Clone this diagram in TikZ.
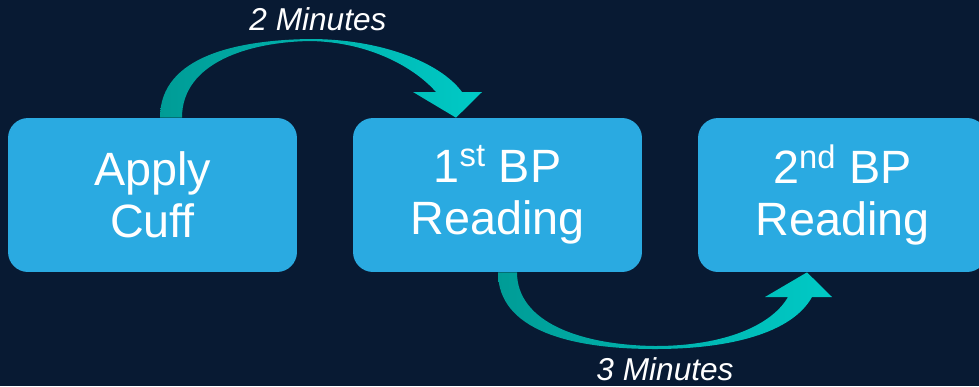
\documentclass[tikz,border=0pt]{standalone}
\usepackage{fontspec}
\setmainfont{Liberation Sans}
\usetikzlibrary{calc}

\definecolor{navy}{HTML}{081A33}
\definecolor{boxblue}{HTML}{2AAAE1}
\definecolor{tealdark}{HTML}{009C96}
\definecolor{teallight}{HTML}{00CAC6}

\tikzset{
  stepbox/.style={fill=boxblue, text=white, rounded corners=0.4cm,
    minimum width=5.78cm, minimum height=3.08cm, inner sep=0pt, align=center,
    font=\fontsize{26.6}{29.6}\selectfont},
  minutes/.style={text=white, anchor=base, font=\itshape\fontsize{18}{20}\selectfont}
}

\begin{document}
\begin{tikzpicture}[x=0.02cm,y=-0.02cm]

      % background
      \fill[navy] (0,0) rectangle (979,386);
      \useasboundingbox (0,0) rectangle (979,386);

      % 3 steps in a row
      \node[stepbox] (apply) at (152.5,195) {Apply\\Cuff};
      \node[stepbox] (first) at (497.5,195) {1\textsuperscript{st} BP\\Reading};
      \node[stepbox] (second) at (842.5,195) {2\textsuperscript{nd} BP\\Reading};

      % arrow over the top, thin at its peak
      \shade[left color=tealdark, right color=teallight]
        ($(apply.north)+(7.5,0)$) .. controls (160,55) and (240,40) .. (310,39)
        .. controls (380,39) and (440,62) .. (462,92) -- (482,92)
        -- ($(first.north)+(-41.5,0)$) -- (413,92) -- (436,92)
        .. controls (415,68) and (370,42) .. (310,41)
        .. controls (250,42) and (182,62) .. ($(apply.north)+(29.5,0)$) -- cycle;
      \node[minutes] (time1) at (318,30) {2 Minutes};

      % arrow under the bottom, thin at its trough
      \shade[left color=tealdark, right color=teallight]
        ($(first.south)+(19.5,0)$) .. controls (517,322) and (580,345) .. (655,346)
        .. controls (725,346) and (772,325) .. (788,297) -- (765,297)
        -- ($(second.south)+(-35.5,0)$) -- (832,297) -- (812,297)
        .. controls (792,333) and (730,349) .. (655,349)
        .. controls (570,349) and (498,330) .. ($(first.south)+(0.5,0)$) -- cycle;
      \node[minutes] (time2) at (665,380) {3 Minutes};

\end{tikzpicture}
\end{document}
